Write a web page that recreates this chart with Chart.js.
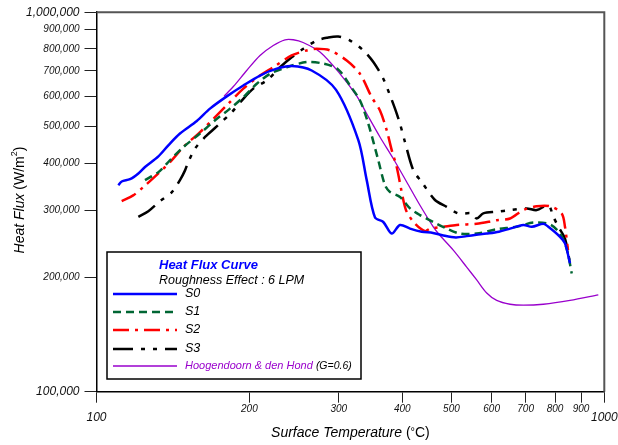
<!DOCTYPE html>
<html>
<head>
<meta charset="utf-8">
<script src="https://cdn.jsdelivr.net/npm/chart.js@4.4.1/dist/chart.umd.min.js"></script>
<style>
  body { margin: 0; background: #fff; }
  canvas { display: block; }
</style>
</head>
<body>
<canvas id="myChart" width="618" height="445"></canvas>
<script>
const FONT = '"Liberation Sans", Arial, Helvetica, sans-serif';

// tick values and labels
const xTicks = [100, 200, 300, 400, 500, 600, 700, 800, 900, 1000];
const xTickLabels = ['100', '200', '300', '400', '500', '600', '700', '800', '900', '1000'];
const yTicks = [100000, 200000, 300000, 400000, 500000, 600000, 700000, 800000, 900000, 1000000];
const yTickLabels = ['100,000', '200,000', '300,000', '400,000', '500,000', '600,000', '700,000', '800,000', '900,000', '1,000,000'];

// surface temperature (°C) and heat flux (W/m2)
const s0Temp = [110.4, 112.1, 116.4, 120.9, 124.6, 132.4, 138.5, 146, 157.6, 167.3, 180.5, 194.6, 209.9, 226.4, 242.3, 265.3, 296.3, 327.8, 340.5, 353.5, 367.1, 381.4, 396, 414.4, 436.9, 460, 482, 510, 535.8, 560, 586.7, 620, 652.2, 692.6, 720, 758.5, 775.9, 818, 836.7, 856];
const s0Flux = [350000, 358000, 363000, 376000, 391000, 417000, 446000, 479000, 517000, 557000, 600000, 641000, 681000, 710000, 721000, 702000, 624000, 460000, 361000, 288000, 280000, 261000, 275000, 269000, 264000, 262000, 258000, 255000, 257000, 259000, 261000, 264000, 269000, 275000, 272000, 277000, 272000, 256000, 246000, 218000];

const s1Temp = [124.6, 132.4, 139.5, 148.2, 159.9, 171.2, 183.2, 194.6, 206.8, 219.6, 236.9, 259.4, 279.7, 299, 315.7, 330.3, 343, 358.9, 370, 378.4, 396, 414.4, 433.5, 460.5, 489.3, 519.7, 560.7, 613.9, 672.4, 724.8, 781.8, 818, 843.3, 862.7];
const s1Flux = [361000, 379000, 407000, 441000, 479000, 519000, 557000, 597000, 648000, 688000, 716000, 739000, 732000, 707000, 641000, 585000, 508000, 407000, 350000, 336000, 326000, 304000, 292000, 280000, 269000, 261000, 261000, 268000, 272000, 279000, 276000, 261000, 238000, 205000];

const s2Temp = [112.1, 118.1, 123.6, 132.4, 140.6, 148.2, 159.9, 171.2, 181.8, 194.6, 209.9, 222.9, 242.3, 259.4, 271.4, 288.3, 311, 330.3, 348.3, 361.6, 372.9, 381.4, 390.1, 402, 408.2, 423.9, 443.6, 453.8, 482, 512, 560.7, 613.9, 652.2, 692.6, 736, 781.8, 824.4, 836.7, 848.2];
const s2Flux = [318000, 329000, 346000, 376000, 407000, 441000, 483000, 529000, 574000, 629000, 681000, 716000, 769000, 793000, 801000, 793000, 746000, 688000, 597000, 551000, 488000, 433000, 391000, 320000, 298000, 277000, 265000, 269000, 272000, 275000, 277000, 283000, 286000, 301000, 308000, 308000, 295000, 272000, 236000];

const s3Temp = [120.9, 126.5, 133.4, 140.6, 146, 149.4, 151.6, 156.3, 163.6, 172.5, 184.6, 193.2, 203.6, 216.4, 229.8, 242.3, 255.5, 271.4, 284.1, 299.3, 315.7, 335.4, 350.9, 367.1, 378.4, 387.1, 396, 405, 420.7, 436.9, 464, 489.3, 515.9, 548.1, 560.7, 577.6, 613.9, 652.2, 703.4, 736, 775.9, 793.8, 812, 836.7, 856];
const s3Flux = [289000, 299000, 318000, 335000, 361000, 383000, 403000, 437000, 469000, 500000, 545000, 585000, 629000, 661000, 716000, 761000, 801000, 842000, 856000, 863000, 842000, 793000, 739000, 668000, 604000, 557000, 508000, 455000, 383000, 357000, 320000, 307000, 295000, 295000, 286000, 295000, 298000, 301000, 304000, 301000, 310000, 289000, 272000, 253000, 218000];

const hdTemp = [178.3, 186, 197.6, 209.9, 222.9, 235.1, 244.1, 255.2, 275.5, 301.7, 325.8, 340.5, 361.6, 384.2, 408.2, 433.5, 460.5, 474.8, 504.2, 535.8, 560.7, 586.7, 613.9, 652.2, 692.6, 758.5, 856, 973.2];
const hdFlux = [600000, 637000, 702000, 769000, 817000, 846000, 846000, 832000, 785000, 688000, 600000, 540000, 469000, 411000, 357000, 310000, 272000, 258000, 236000, 213000, 197000, 182000, 174000, 170000, 169000, 170000, 174000, 180000];

function pts(t, q) {
  return t.map((v, i) => ({ x: v, y: q[i] }));
}

// draw text pieces with different fonts one after another
function drawRuns(ctx, runs, x, y, align) {
  let total = 0;
  runs.forEach(r => { ctx.font = r.font; total += ctx.measureText(r.text).width; });
  let cx = align === 'center' ? x - total / 2 : x;
  ctx.textAlign = 'left';
  ctx.textBaseline = 'middle';
  runs.forEach(r => {
    ctx.font = r.font;
    ctx.fillStyle = r.color || '#000';
    ctx.fillText(r.text, cx, y + (r.dy || 0));
    cx += ctx.measureText(r.text).width;
  });
}

const framePlugin = {
  id: 'frame',
  afterDatasetsDraw(chart) {
    const { ctx, chartArea: a } = chart;
    ctx.save();
    ctx.strokeStyle = '#555';
    ctx.lineWidth = 2;
    ctx.beginPath();
    ctx.moveTo(a.left, a.top);
    ctx.lineTo(a.right, a.top);
    ctx.lineTo(a.right, a.bottom);
    ctx.stroke();
    ctx.restore();
  }
};

const labelsPlugin = {
  id: 'axisText',
  afterDraw(chart) {
    const ctx = chart.ctx;
    const xs = chart.scales.x;
    const a = chart.chartArea;
    ctx.save();
    // x tick labels, decades larger and lower
    xTicks.forEach((v, i) => {
      const major = v === 100 || v === 1000;
      ctx.font = 'italic ' + (major ? 12 : 10) + 'px ' + FONT;
      ctx.fillStyle = '#111';
      ctx.textAlign = 'center';
      ctx.textBaseline = 'middle';
      ctx.fillText(xTickLabels[i], xs.getPixelForValue(v), a.bottom + (major ? 26 : 18));
    });
    // x axis title
    drawRuns(ctx, [
      { text: 'Surface Temperature ', font: 'italic 14px ' + FONT },
      { text: '(', font: '14px ' + FONT },
      { text: '°', font: '11px ' + FONT, dy: -1 },
      { text: 'C)', font: '14px ' + FONT }
    ], (a.left + a.right) / 2, 433, 'center');
    // y axis title
    ctx.translate(20, 200);
    ctx.rotate(-Math.PI / 2);
    drawRuns(ctx, [
      { text: 'Heat ', font: 'italic 14px ' + FONT },
      { text: 'Flux ', font: 'italic 14px ' + FONT },
      { text: '(W/m', font: '14px ' + FONT },
      { text: '2', font: '9px ' + FONT, dy: -5 },
      { text: ')', font: '14px ' + FONT }
    ], 0, 0, 'center');
    ctx.restore();
  }
};

const legendPlugin = {
  id: 'legendBox',
  afterDraw(chart) {
    const ctx = chart.ctx;
    const box = { left: 107, top: 252, right: 361, bottom: 379 };
    ctx.save();
    ctx.fillStyle = '#fff';
    ctx.fillRect(box.left, box.top, box.right - box.left, box.bottom - box.top);
    ctx.strokeStyle = '#000';
    ctx.lineWidth = 1.5;
    ctx.strokeRect(box.left, box.top, box.right - box.left, box.bottom - box.top);

    drawRuns(ctx, [{ text: 'Heat Flux Curve', font: 'italic bold 13px ' + FONT, color: '#0000ff' }], 159, 265, 'left');
    drawRuns(ctx, [{ text: 'Roughness Effect : 6 LPM', font: 'italic 12.5px ' + FONT, color: '#000' }], 159, 281, 'left');

    const rowsY = [294, 312, 330, 349, 366];
    chart.data.datasets.forEach((ds, i) => {
      const y = rowsY[i];
      ctx.strokeStyle = ds.borderColor;
      ctx.lineWidth = ds.borderWidth;
      ctx.setLineDash(ds.borderDash || []);
      ctx.beginPath();
      ctx.moveTo(113, y);
      ctx.lineTo(177, y);
      ctx.stroke();
      ctx.setLineDash([]);
      if (i < 4) {
        drawRuns(ctx, [{ text: ds.label, font: 'italic 12.5px ' + FONT, color: '#000' }], 185, y, 'left');
      } else {
        drawRuns(ctx, [
          { text: ds.label + ' ', font: 'italic 11px ' + FONT, color: '#9900cc' },
          { text: '(G=0.6)', font: 'italic 10.5px ' + FONT, color: '#000' }
        ], 185, y, 'left');
      }
    });
    ctx.restore();
  }
};

const myChart = document.getElementById('myChart').getContext('2d');

const thisChart = new Chart(myChart, {
  type: 'line',
  data: {
    datasets: [
      { label: 'S0', data: pts(s0Temp, s0Flux), borderColor: '#0000ff', borderWidth: 2.5, borderDash: [] },
      { label: 'S1', data: pts(s1Temp, s1Flux), borderColor: '#006633', borderWidth: 2.5, borderDash: [8, 5] },
      { label: 'S2', data: pts(s2Temp, s2Flux), borderColor: '#ff0000', borderWidth: 2.5, borderDash: [16, 6, 3, 6] },
      { label: 'S3', data: pts(s3Temp, s3Flux), borderColor: '#000000', borderWidth: 2.5, borderDash: [20, 8, 4, 8, 4, 8] },
      { label: 'Hoogendoorn & den Hond', data: pts(hdTemp, hdFlux), borderColor: '#9900cc', borderWidth: 1.3, borderDash: [] }
    ]
  },
  options: {
    responsive: false,
    animation: false,
    events: [],
    elements: {
      point: { radius: 0 },
      line: { tension: 0.3, fill: false }
    },
    layout: {
      autoPadding: false,
      padding: { left: 0, right: 13.7, top: 11.7, bottom: 0 }
    },
    plugins: {
      legend: { display: false },
      tooltip: { enabled: false },
      title: { display: false }
    },
    scales: {
      x: {
        type: 'logarithmic',
        min: 100,
        max: 1000,
        afterBuildTicks: s => { s.ticks = xTicks.map(v => ({ value: v })); },
        afterFit: s => { s.height = 53.3; },
        grid: { display: true, drawOnChartArea: false, drawTicks: true, tickLength: 11, color: '#222', lineWidth: 1 },
        border: { display: true, color: '#000', width: 1.5 },
        ticks: { display: false, autoSkip: false, maxRotation: 0 }
      },
      y: {
        type: 'logarithmic',
        min: 100000,
        max: 1000000,
        afterBuildTicks: s => { s.ticks = yTicks.map(v => ({ value: v })); },
        afterFit: s => { s.width = 96.5; },
        grid: { display: true, drawOnChartArea: false, drawTicks: true, tickLength: 12, color: '#222', lineWidth: 1 },
        border: { display: true, color: '#000', width: 1.5 },
        ticks: {
          autoSkip: false,
          padding: 5,
          color: '#111',
          callback: v => yTickLabels[yTicks.indexOf(v)],
          font: c => ({
            family: FONT,
            style: 'italic',
            size: (c.tick && (c.tick.value === 100000 || c.tick.value === 1000000)) ? 12 : 10
          })
        }
      }
    }
  },
  plugins: [framePlugin, labelsPlugin, legendPlugin]
});
</script>
</body>
</html>
